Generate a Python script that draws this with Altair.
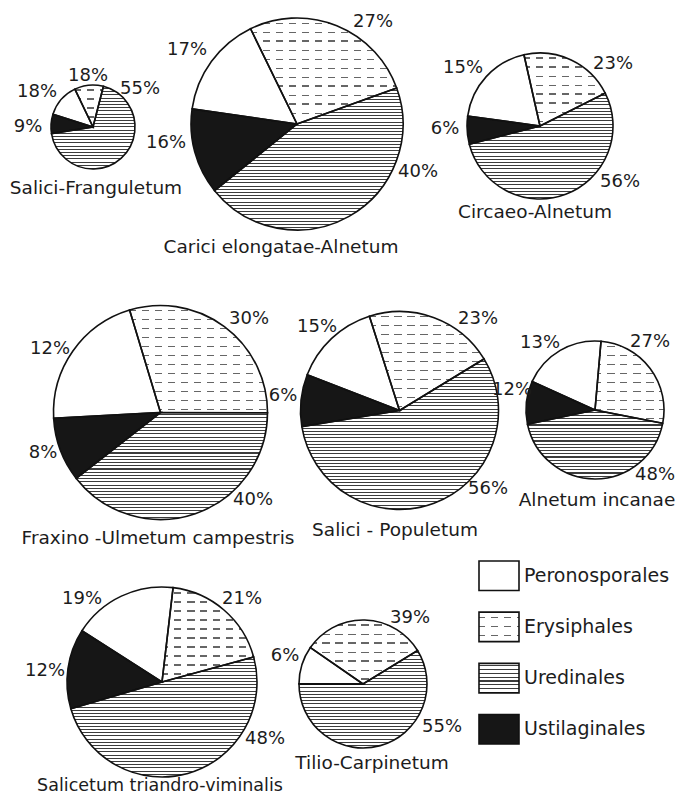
import math
import altair as alt
import pandas as pd

# ---------------- data ----------------
SITES = ["Salici-Franguletum", "Carici elongatae-Alnetum", "Circaeo-Alnetum",
         "Fraxino -Ulmetum campestris", "Salici - Populetum", "Alnetum incanae",
         "Salicetum triandro-viminalis", "Tilio-Carpinetum"]

# clockwise drawing order of the slices
ORDER = ["Erysiphales", "Uredinales", "Ustilaginales", "Peronosporales"]
LEGEND_ORDER = ["Peronosporales", "Erysiphales", "Uredinales", "Ustilaginales"]

# slice shares as drawn in the figure (percent of the circle)
ERYSIPHALES = [11.1, 26.7, 21.1, 29.7, 21.2, 26.7, 18.9, 31.6]
UREDINALES = [68.5, 44.7, 53.4, 39.4, 56.1, 43.6, 49.7, 58.8]
USTILAGINALES = [7.4, 13.1, 6.2, 9.7, 8.5, 10.1, 13.6, 0.0]
PERONOSPORALES = [13.0, 15.5, 19.3, 21.2, 14.2, 19.6, 17.8, 9.6]

# percentages as printed on the figure
LBL_ERYSIPHALES = ["18%", "27%", "23%", "30%", "23%", "27%", "21%", "39%"]
LBL_UREDINALES = ["55%", "40%", "56%", "40%", "56%", "48%", "48%", "55%"]
LBL_USTILAGINALES = ["9%", "16%", "6%", "8%", "6%", "12%", "12%", ""]
LBL_PERONOSPORALES = ["18%", "17%", "15%", "12%", "15%", "13%", "19%", "6%"]

# ---------------- layout (page pixels) ----------------
M = 8  # page margin
CENTERS = [(93, 127), (297, 124), (540, 126), (160.5, 412.5),
           (399.5, 410.5), (595, 410), (162, 682), (363, 684)]
RADII = [42, 106, 73, 107, 99, 69, 95, 64]
START_DEG = [-25.6, -26.0, -12.7, -16.8, -17.7, 5.0, 6.7, -55.3]

# label anchor points: Erysiphales, Uredinales, Ustilaginales, Peronosporales
LABEL_POS = [
    [(88, 76), (140, 89), (28, 127), (37, 92)],
    [(373, 22), (418, 172), (166, 143), (187, 50)],
    [(613, 64), (620, 182), (445, 129), (463, 68)],
    [(249, 319), (253, 500), (43, 453), (50, 349)],
    [(478, 319), (488, 489), (283, 396), (317, 327)],
    [(650, 342), (655, 475), (512, 390), (540, 343)],
    [(242, 599), (265, 739), (45, 671), (82, 599)],
    [(410, 618), (442, 727), (0, 0), (285, 656)],
]
TITLE_POS = [(96, 188), (281, 247), (535, 212), (158, 538),
             (395, 530), (597, 500), (160, 786), (372, 763)]
TITLE_SIZE = [18.5, 18.5, 18.5, 18.5, 18.5, 18.5, 17.5, 18.5]

LEG_X0, LEG_X1, LEG_TEXT_X = 479, 519, 524
LEG_TOP, LEG_BOTTOM = 561, 744

FONT = "DejaVu Sans"
INK = "#1c1c1c"


def bbox(a0, a1, r):
    angs = [a0, a1] + [k * 90 for k in range(-8, 9) if a0 < k * 90 < a1]
    xs = [0.0] + [r * math.sin(math.radians(a)) for a in angs]
    ys = [0.0] + [-r * math.cos(math.radians(a)) for a in angs]
    return max(max(xs) - min(xs), 1.0), max(max(ys) - min(ys), 1.0)


def stripes(length, period, thick, color, vertical=False, bg="#ffffff", phase=0.5):
    stops = [{"offset": 0, "color": bg}]
    k = 0
    while True:
        a = (k + phase) * period / length
        if a >= 1:
            break
        b = min(a + thick / length, 1.0)
        a, b = round(a, 5), round(b, 5)
        stops += [{"offset": a, "color": bg}, {"offset": a, "color": color},
                  {"offset": b, "color": color}, {"offset": b, "color": bg}]
        k += 1
    stops.append({"offset": 1, "color": bg})
    return {"gradient": "linear", "x1": 0, "y1": 0,
            "x2": 1 if vertical else 0, "y2": 0 if vertical else 1,
            "stops": stops}


def fills(cat, w, h, big=True):
    """list of fills (drawn bottom to top) for a category"""
    if cat == "Erysiphales":
        return [stripes(h, 9, 1.4, "#666666"),
                stripes(w, 13, 5.5, "#ffffff", vertical=True, bg="rgba(255,255,255,0)")]
    if cat == "Uredinales":
        return [stripes(h, 3.2 if big else 3.8, 1.1, "#3c3c3c")]
    if cat == "Ustilaginales":
        return ["#161616"]
    return ["#ffffff"]


def pie(i):
    vals = [ERYSIPHALES[i], UREDINALES[i], USTILAGINALES[i], PERONOSPORALES[i]]
    df = pd.DataFrame({"cat": ORDER, "value": vals, "order": list(range(4))})
    cx, cy = CENTERS[i][0] - M, CENTERS[i][1] - M
    r = RADII[i]
    s = math.radians(START_DEG[i])
    enc = dict(
        theta=alt.Theta("start:Q", stack=None,
                        scale=alt.Scale(domain=[0, 100], range=[s, s + 2 * math.pi])),
        theta2="end:Q",
        x=alt.value(cx), y=alt.value(cy),
    )
    layers = []
    cum = 0.0
    for c, v in zip(ORDER, vals):
        a0 = START_DEG[i] + 3.6 * cum
        a1 = a0 + 3.6 * v
        cum += v
        if v <= 0:
            continue
        w, h = bbox(a0, a1, r)
        base = alt.Chart().transform_filter(alt.datum.cat == c)
        for f in fills(c, w, h):
            layers.append(base.mark_arc(radius=r, fill=f, strokeWidth=0).encode(**enc))
    layers.append(
        alt.Chart().mark_arc(radius=r, fill="#ffffff", fillOpacity=0,
                             stroke="#111111", strokeWidth=1.6).encode(**enc)
    )
    return (alt.layer(*layers, data=df)
            .transform_window(end="sum(value)", sort=[alt.SortField("order")])
            .transform_calculate(start="datum.end - datum.value"))


pies = [pie(i) for i in range(len(SITES))]

# ---------------- percent labels ----------------
lab_rows = []
for i in range(len(SITES)):
    texts = [LBL_ERYSIPHALES[i], LBL_UREDINALES[i], LBL_USTILAGINALES[i], LBL_PERONOSPORALES[i]]
    for t, (px, py) in zip(texts, LABEL_POS[i]):
        if t:
            lab_rows.append({"text": t, "px": px - M, "py": py - M})
lab_df = pd.DataFrame(lab_rows)
labels = alt.Chart(lab_df).mark_text(
    font=FONT, fontSize=18, color=INK, align="center", baseline="middle"
).encode(
    x=alt.X("px:Q", scale=None, axis=None),
    y=alt.Y("py:Q", scale=None, axis=None),
    text="text:N",
)

title_df = pd.DataFrame({"text": SITES,
                         "px": [p[0] - M for p in TITLE_POS],
                         "py": [p[1] - M for p in TITLE_POS],
                         "size": TITLE_SIZE})
titles = alt.Chart(title_df).mark_text(
    font=FONT, color=INK, align="center", baseline="middle"
).encode(
    x=alt.X("px:Q", scale=None, axis=None),
    y=alt.Y("py:Q", scale=None, axis=None),
    size=alt.Size("size:Q", scale=None, legend=None),
    text="text:N",
)

# ---------------- legend ----------------
n = len(LEGEND_ORDER)
L = LEG_BOTTOM - LEG_TOP
bw = 29.5
pin = (L - bw * n) / (L - bw)
leg_df = pd.DataFrame({"cat": LEGEND_ORDER})
ly = alt.Y("cat:N", axis=None,
           scale=alt.Scale(domain=LEGEND_ORDER, range=[LEG_TOP - M, LEG_BOTTOM - M],
                           paddingInner=pin, paddingOuter=0))
leg_layers = []
for c in LEGEND_ORDER:
    base = alt.Chart().transform_filter(alt.datum.cat == c)
    for f in fills(c, LEG_X1 - LEG_X0, bw, big=False):
        leg_layers.append(base.mark_rect(fill=f, strokeWidth=0).encode(
            x=alt.value(LEG_X0 - M), x2=alt.value(LEG_X1 - M), y=ly))
leg_layers.append(alt.Chart().mark_rect(fill="#ffffff", fillOpacity=0, stroke="#111111",
                                        strokeWidth=1.6).encode(
    x=alt.value(LEG_X0 - M), x2=alt.value(LEG_X1 - M), y=ly))
leg_layers.append(alt.Chart().mark_text(font=FONT, fontSize=19, color=INK, align="left",
                                        baseline="middle").encode(
    x=alt.value(LEG_TEXT_X - M), y=ly, text="cat:N"))
legend = alt.layer(*leg_layers, data=leg_df)

chart = (
    alt.layer(*pies, labels, titles, legend)
    .resolve_scale(theta="independent", x="independent", y="independent")
    .properties(width=684 - 2 * M, height=803 - 2 * M,
                autosize=alt.AutoSizeParams(type="none"), padding=0,
                background="#ffffff")
    .configure_view(stroke="transparent")
)

chart.save("out.html", embed_options={"renderer": "svg", "actions": False})
